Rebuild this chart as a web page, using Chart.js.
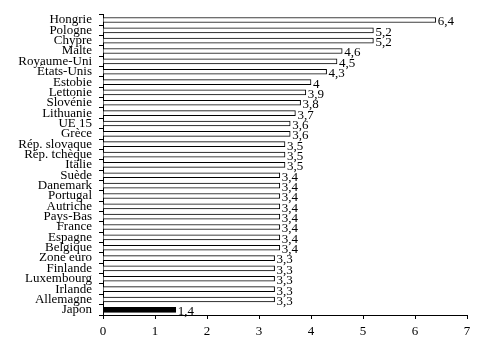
<!DOCTYPE html>
<html>
<head>
<meta charset="utf-8">
<script src="https://cdn.jsdelivr.net/npm/chart.js@4/dist/chart.umd.min.js"></script>
<style>
  body { margin: 0; background: #fff; }
  canvas { display: block; }
</style>
</head>
<body>
<canvas id="grafico" width="487" height="362"></canvas>
<script>
// Pays et valeurs
const pays = ["Hongrie", "Pologne", "Chypre", "Malte", "Royaume-Uni", "États-Unis",
  "Estobie", "Lettonie", "Slovénie", "Lithuanie", "UE 15", "Grèce", "Rép. slovaque",
  "Rép. tchèque", "Itälie", "Suède", "Danemark", "Portugal", "Autriche", "Pays-Bas",
  "France", "Espagne", "Belgique", "Zone euro", "Finlande", "Luxembourg", "Irlande",
  "Allemagne", "Japon"];
const valeurs = [6.4, 5.2, 5.2, 4.6, 4.5, 4.3, 4, 3.9, 3.8, 3.7, 3.6, 3.6, 3.5,
  3.5, 3.5, 3.4, 3.4, 3.4, 3.4, 3.4, 3.4, 3.4, 3.4, 3.3, 3.3, 3.3, 3.3, 3.3, 1.4];
const ticksX = [0, 1, 2, 3, 4, 5, 6, 7];

const police = "'Liberation Serif', 'Times New Roman', serif";

// étiquettes de valeur à droite des barres
const etiquettes = {
  id: "etiquettes",
  afterDatasetsDraw(chart) {
    const ctx = chart.ctx;
    const meta = chart.getDatasetMeta(0);
    ctx.save();
    ctx.font = "13px " + police;
    ctx.fillStyle = "#000";
    ctx.textAlign = "left";
    ctx.textBaseline = "middle";
    meta.data.forEach((bar, i) => {
      ctx.fillText(String(valeurs[i]).replace(".", ","), bar.x + 2, bar.y + 2);
    });
    ctx.restore();
  }
};

new Chart(document.getElementById("grafico"), {
  type: "bar",
  data: {
    labels: pays,
    datasets: [{
      data: valeurs,
      backgroundColor: pays.map(p => p === "Japon" ? "#000" : "#fff"),
      borderColor: "#000",
      borderWidth: 1,
      barThickness: 5
    }]
  },
  options: {
    indexAxis: "y",
    responsive: false,
    animation: false,
    layout: { padding: { top: 14, right: 20, left: 0, bottom: 0 } },
    plugins: { legend: { display: false }, tooltip: { enabled: false } },
    scales: {
      x: {
        min: 0,
        max: 7,
        afterBuildTicks: s => { s.ticks = ticksX.map(v => ({ value: v })); },
        afterFit: s => { s.height = 47; },
        border: { display: true, color: "#000", width: 1 },
        grid: { drawOnChartArea: false, color: "#000", tickLength: 4 },
        ticks: { color: "#000", padding: 5, font: { family: police, size: 13 } }
      },
      y: {
        afterFit: s => { s.width = 103; },
        border: { display: true, color: "#000", width: 1 },
        grid: { drawOnChartArea: false, color: "#000", tickLength: 4, offset: true },
        ticks: { color: "#000", padding: 7, autoSkip: false, font: { family: police, size: 13 } }
      }
    }
  },
  plugins: [etiquettes]
});
</script>
</body>
</html>
